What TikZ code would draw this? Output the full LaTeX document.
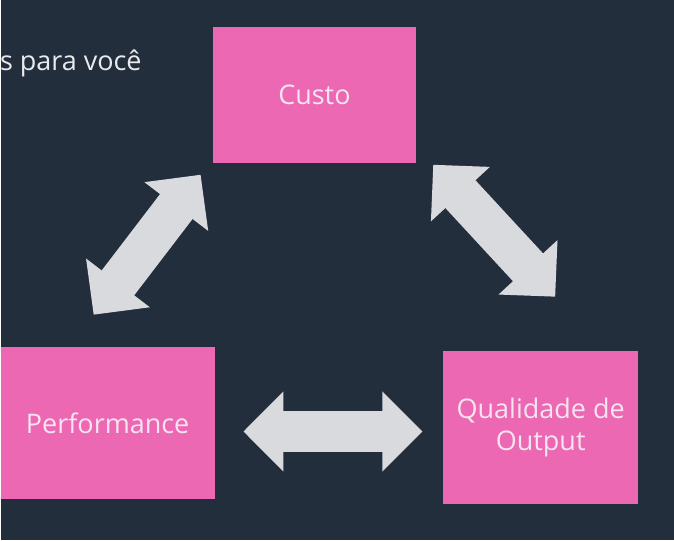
\documentclass[tikz,border=0pt]{standalone}
\usepackage{fontspec}
\setmainfont{Open Sans}
\usetikzlibrary{arrows.meta}
\definecolor{slidebg}{RGB}{35,46,61}
\definecolor{boxpink}{RGB}{236,104,179}
\definecolor{boxtext}{RGB}{246,228,240}
\definecolor{linkgrey}{RGB}{217,218,221}
\definecolor{titletext}{RGB}{232,234,238}

\begin{document}
\begin{tikzpicture}[x=1pt,y=-1pt,
    box/.style={fill=boxpink, inner sep=0pt, text=boxtext, align=center,
        font=\fontsize{27}{32}\selectfont},
    link/.style={draw=linkgrey, line width=41pt,
        {Triangle[width=80pt,length=40pt,line width=2pt]}-{Triangle[width=80pt,length=40pt,line width=2pt]}}]
            % Background
            \fill[slidebg] (0,0) rectangle (674,541);
            
            % Title (cut off on the left)
            \node[anchor=base west, inner sep=0pt, text=titletext,
                font=\fontsize{27}{32}\selectfont] (title) at (-1,71) {s para você};
            
            % Boxes
            \node[box, minimum width=204pt, minimum height=136pt] (custo) at (314,95) {Custo};
            \node[box, minimum width=214pt, minimum height=153pt] (perf) at (107,423.5) {Performance};
            \node[box, minimum width=195pt, minimum height=154pt] (qual) at (540.5,428) {Qualidade de\\Output};
            
            % Arrow ends
            \coordinate (perfup) at (93,315);
            \coordinate (custoleft) at (200,175);
            \coordinate (custoright) at (433,165);
            \coordinate (qualup) at (555,297);
            \coordinate (perfright) at (243,432);
            \coordinate (qualleft) at (422,432);
            
            % Arrows
            \draw[link] (perfup) -- (custoleft);
            \draw[link] (custoright) -- (qualup);
            \draw[link] (perfright) -- (qualleft);
        \end{tikzpicture}
\end{document}
